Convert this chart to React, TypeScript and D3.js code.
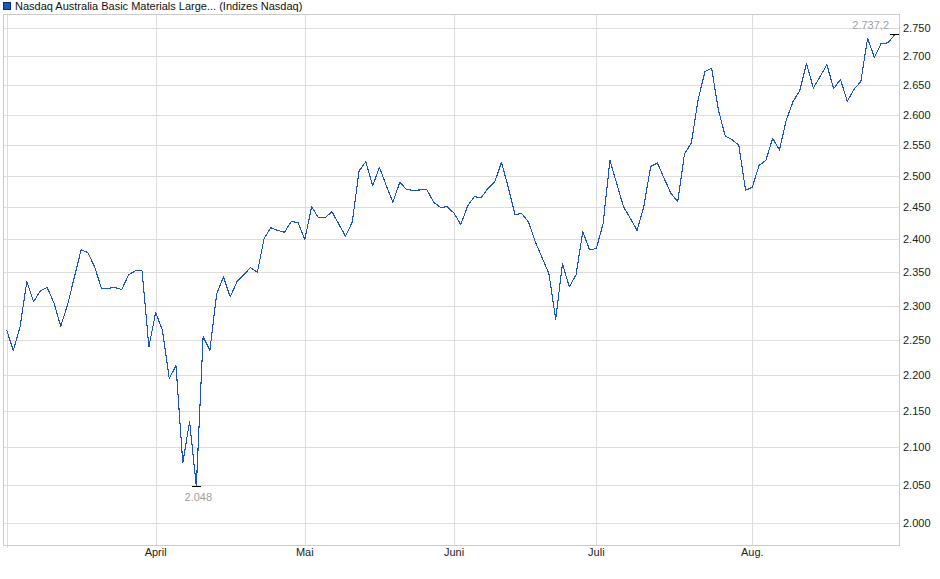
import React from 'react';
import * as d3 from 'd3';

const TITLE = 'Nasdaq Australia Basic Materials Large... (Indizes Nasdaq)';

// Daily closes on weekdays (null = no quote that day)
const valuesMar: (number | null)[] = [2265, 2235, 2269, 2336, 2306, 2322, 2327, 2304, 2270, 2301, null, 2384, 2380, 2358, 2326, 2326, 2327, 2324, 2346, 2352, 2352, 2240];
const valuesApr: (number | null)[] = [2290, 2264, 2195, 2213, 2079, 2135, 2048, 2255, 2235, 2318, 2343, 2313, 2336, null, 2357, 2350, 2402, 2418, 2414, 2411, 2428, 2426];
const valuesMay: (number | null)[] = [2400, 2451, 2434, 2434, 2443, 2424, 2405, 2427, 2508, 2523, 2484, 2514, 2485, 2458, 2490, 2478, 2477, null, 2478, 2458, 2450, 2451];
const valuesJun: (number | null)[] = [2441, 2423, 2452, 2467, 2465, 2480, 2490, 2522, 2482, 2439, 2440, 2427, 2396, null, 2348, 2280, 2363, 2328, 2346, 2412, 2384];
const valuesJul: (number | null)[] = [2386, 2425, 2525, null, 2451, 2433, 2414, 2451, 2515, 2521, 2496, 2472, 2459, 2536, 2553, 2625, 2673, 2679, 2608, 2565, 2559, 2550, 2477];
const valuesAug: (number | null)[] = [2482, 2517, 2525, 2561, 2542, 2591, 2622, 2641, 2687, 2645, null, 2685, 2644, 2660, 2623, 2643, 2656, 2731, 2698, 2722, 2723, 2737.2];

const START = new Date(2025, 1, 28);
const END = new Date(2025, 8, 1);

const yTicks = [2000, 2050, 2100, 2150, 2200, 2250, 2300, 2350, 2400, 2450, 2500, 2550, 2600, 2650, 2700, 2750];
const yDomain = [1972.3, 2774];

const monthDates = [new Date(2025, 3, 1), new Date(2025, 4, 1), new Date(2025, 5, 1), new Date(2025, 6, 1), new Date(2025, 7, 1)];
const monthLabels = ['April', 'Mai', 'Juni', 'Juli', 'Aug.'];

const W = 940;
const H = 579;
const FONT = '"Liberation Sans", Arial, Helvetica, sans-serif';

const de = d3.formatLocale({ decimal: ',', thousands: '.', grouping: [3], currency: ['', ' €'] });
const fmt0 = de.format(',.0f');
const fmt1 = de.format(',.1f');
const fmtExtreme = (v: number) => fmt1(v).replace(/,0$/, '');

export default function App() {
  const dates = d3.timeDay
    .range(START, d3.timeDay.offset(END, 1))
    .filter((d) => d.getDay() !== 0 && d.getDay() !== 6);
  const values = [...valuesMar, ...valuesApr, ...valuesMay, ...valuesJun, ...valuesJul, ...valuesAug];
  const points = values
    .map((v, i) => ({ i, v, d: dates[i] }))
    .filter((p) => p.v !== null) as { i: number; v: number; d: Date }[];

  const frame = { left: 3, right: 899, top: 14, bottom: 545 };
  const x = d3.scaleLinear().domain([0, dates.length - 1]).range([6.5, 894.7]);
  const y = d3.scaleLog().domain(yDomain).range([frame.bottom, frame.top]);

  const line = d3
    .line<{ i: number; v: number }>()
    .x((p) => x(p.i))
    .y((p) => y(p.v));

  const monthIdx = monthDates.map((md) => dates.findIndex((d) => d >= md));

  const minP = points.reduce((a, b) => (b.v < a.v ? b : a));
  const last = points[points.length - 1];

  const gridColor = '#dddddd';

  return (
    <svg
      width={W}
      height={H}
      style={{ position: 'absolute', left: 0, top: 0, background: '#fff' }}
      fontFamily={FONT}
    >
      {/* legend */}
      <rect x={3.5} y={2.5} width={7} height={7} fill="#1a55c2" stroke="#0b2a66" strokeWidth={1} />
      <text x={15} y={10} fontSize={11} fill="#111">
        {TITLE}
      </text>

      {/* horizontal grid */}
      {yTicks.map((t) => (
        <line
          key={'h' + t}
          x1={frame.left}
          x2={frame.right}
          y1={Math.round(y(t)) + 0.5}
          y2={Math.round(y(t)) + 0.5}
          stroke={gridColor}
          strokeWidth={1}
        />
      ))}
      {/* vertical grid */}
      <line x1={Math.round(x(0)) + 0.5} x2={Math.round(x(0)) + 0.5} y1={frame.top} y2={frame.bottom + 3} stroke={gridColor} />
      {monthIdx.map((mi, k) => (
        <line
          key={'v' + k}
          x1={Math.round(x(mi)) + 0.5}
          x2={Math.round(x(mi)) + 0.5}
          y1={frame.top}
          y2={frame.bottom}
          stroke={gridColor}
        />
      ))}
      {/* frame */}
      <rect
        x={frame.left + 0.5}
        y={frame.top + 0.5}
        width={frame.right - frame.left}
        height={frame.bottom - frame.top}
        fill="none"
        stroke="#cccccc"
      />

      {/* y labels */}
      {yTicks.map((t) => (
        <text key={'yl' + t} x={903} y={y(t) + 4} fontSize={11} fill="#222">
          {fmt0(t)}
        </text>
      ))}
      {/* x labels */}
      {monthIdx.map((mi, k) => (
        <text key={'xl' + k} x={x(mi)} y={556} fontSize={11} fill="#222" textAnchor="middle">
          {monthLabels[k]}
        </text>
      ))}

      {/* series */}
      <path
        d={line(points) || ''}
        fill="none"
        stroke="#1a55c2"
        strokeWidth={1.1}
        strokeLinejoin="round"
        shapeRendering="crispEdges"
      />

      {/* min marker */}
      <line x1={x(minP.i) - 4.5} x2={x(minP.i) + 4.5} y1={y(minP.v)} y2={y(minP.v)} stroke="#000" strokeWidth={1} shapeRendering="crispEdges" />
      <text x={x(minP.i) + 2} y={501} fontSize={11} fill="#a0a0a0" textAnchor="middle">
        {fmtExtreme(minP.v)}
      </text>
      {/* last/max marker */}
      <line x1={x(last.i) - 4.5} x2={x(last.i) + 4.5} y1={y(last.v)} y2={y(last.v)} stroke="#000" strokeWidth={1} shapeRendering="crispEdges" />
      <text x={889} y={y(last.v) - 6} fontSize={11} fill="#a0a0a0" textAnchor="end">
        {fmtExtreme(last.v)}
      </text>
    </svg>
  );
}
